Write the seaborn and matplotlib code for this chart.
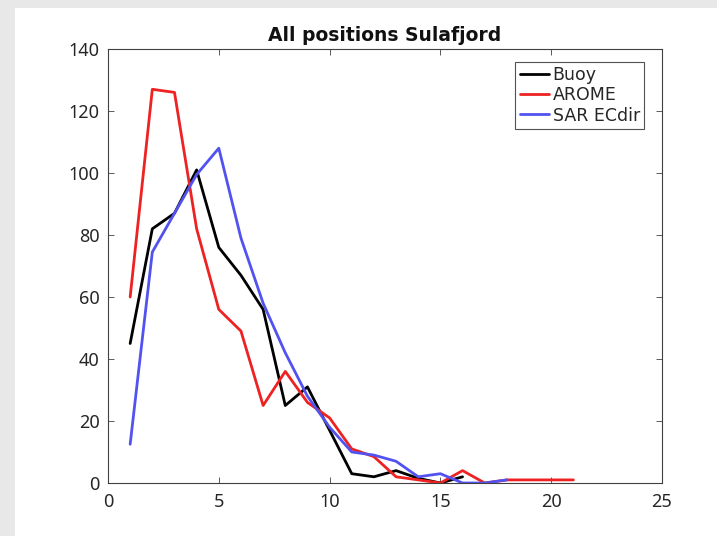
import numpy as np
import pandas as pd
import matplotlib
matplotlib.use("Agg")
import matplotlib.pyplot as plt
import seaborn as sns
from matplotlib.patches import Rectangle

# Data
buoy_x = list(range(1, 17))
buoy_y = [45, 82, 87, 101, 76, 67, 56, 25, 31, 17, 3, 2, 4, 1.5, 0, 2]

arome_x = list(range(1, 22))
arome_y = [60, 127, 126, 82, 56, 49, 25, 36, 26, 21, 11, 8.5, 2, 1, 0, 4, 0, 1, 1, 1, 1]

sar_x = list(range(1, 19))
sar_y = [12.5, 74.5, 87, 99.5, 108, 79, 58, 42, 28, 18, 10, 9, 7, 2, 3, 0, 0, 1]

series_names = ["Buoy", "AROME", "SAR ECdir"]
colors = ["#000000", "#ee2222", "#5252f0"]

df = pd.concat([
    pd.DataFrame({"x": buoy_x, "y": buoy_y, "series": "Buoy"}),
    pd.DataFrame({"x": arome_x, "y": arome_y, "series": "AROME"}),
    pd.DataFrame({"x": sar_x, "y": sar_y, "series": "SAR ECdir"}),
], ignore_index=True)

sns.set_style("white")
plt.rcParams['font.family'] = ['Noto Sans', 'DejaVu Sans']

fig = plt.figure(figsize=(7.17, 5.36), dpi=100)
fig.patch.set_facecolor("#e8e8e8")
bg = Rectangle((15/717, 0), 1 - 15/717, 1 - 8/536, transform=fig.transFigure,
               facecolor="white", edgecolor="none", zorder=-10)
fig.add_artist(bg)

ax = fig.add_axes([108/717, (536-483)/536, (662-108)/717, (483-49)/536])
ax.set_zorder(1)
sns.lineplot(data=df, x="x", y="y", hue="series", hue_order=series_names,
             palette=colors, linewidth=2.0, ax=ax, sort=False, estimator=None)

ax.set_xlim(0, 25)
ax.set_ylim(0, 140)
ax.set_xticks(range(0, 26, 5))
ax.set_yticks(range(0, 141, 20))
ax.set_xlabel("")
ax.set_ylabel("")
ax.set_title("All positions Sulafjord", fontsize=13.5, fontweight="bold",
             family="DejaVu Sans", pad=6, color="#111111")

ax.tick_params(direction="in", length=4.5, width=0.6, colors="#404040",
               labelsize=13, labelcolor="#262626", top=True, right=True,
               bottom=True, left=True)
ax.tick_params(axis="y", pad=6)
ax.tick_params(axis="x", pad=7)
for s in ax.spines.values():
    s.set_visible(True)
    s.set_color("#404040")
    s.set_linewidth(0.8)

leg = ax.legend(loc="upper right", bbox_to_anchor=(0.968, 0.97),
                prop={"family": "DejaVu Sans", "size": 12.5},
                frameon=True, fancybox=False, edgecolor="#262626",
                handlelength=1.7, handletextpad=0.2, labelspacing=0.12,
                borderpad=0.25, borderaxespad=0.0)
leg.get_frame().set_linewidth(0.8)

fig.savefig("out.png", dpi=100, facecolor=fig.get_facecolor())
